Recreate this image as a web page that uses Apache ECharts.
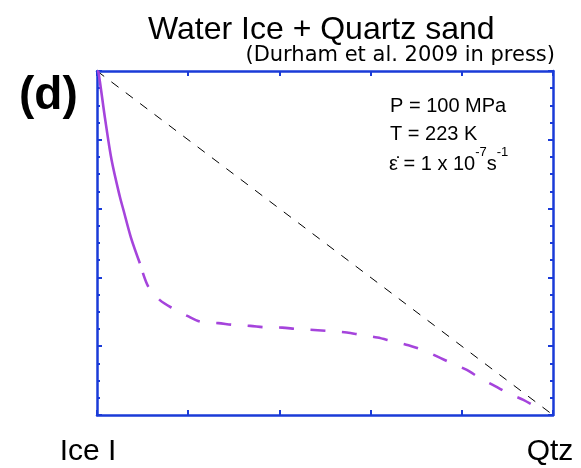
<!DOCTYPE html>
<html>
<head>
<meta charset="utf-8">
<script src="https://cdn.jsdelivr.net/npm/echarts@6.0.0/dist/echarts.min.js"></script>
<style>
  html, body { margin: 0; padding: 0; background: #ffffff; }
  #chart { width: 581px; height: 468px; }
</style>
</head>
<body>
<div id="chart"></div>
<script>
// fraction of quartz (0 = Ice I, 1 = Qtz) and normalised strength
const mixX = [0, 0.003, 0.0175, 0.032, 0.05, 0.058, 0.0746, 0.094,
  0.1125, 0.138, 0.166, 0.198, 0.227, 0.266, 0.299, 0.336, 0.368, 0.406,
  0.438, 0.476, 0.509, 0.548, 0.578, 0.615, 0.646, 0.683, 0.714, 0.748,
  0.778, 0.811, 0.84, 0.873, 0.902, 0.935, 0.968];
const mixY = [1, 0.998, 0.863, 0.741, 0.635, 0.596, 0.515, 0.441,
  0.373, 0.334, 0.31, 0.288, 0.271, 0.267, 0.262, 0.259, 0.255, 0.254,
  0.25, 0.247, 0.244, 0.24, 0.233, 0.225, 0.215, 0.203, 0.189, 0.169,
  0.15, 0.131, 0.107, 0.084, 0.063, 0.044, 0.019];
const solidUntil = 0.094; // measured part of the curve, dashed beyond
const lineX = [0, 1];     // simple linear mixing line
const lineY = [1, 0];
const tickVals = [0, 0.2, 0.4, 0.6, 0.8, 1];
const endLabels = ['Ice I', 'Qtz'];
const conditions = ['P = 100 MPa', 'T = 223 K'];

const blue = '#1a3bd8';
const purple = '#a544dc';
const font = 'Liberation Sans, Arial, Helvetica, sans-serif';

const solidPts = [];
const dashPts = [];
mixX.forEach((x, i) => {
  if (x <= solidUntil) solidPts.push([x, mixY[i]]);
  if (x >= solidUntil) dashPts.push([x, mixY[i]]);
});
const diagPts = lineX.map((x, i) => [x, lineY[i]]);

const axisLine = { show: true, onZero: false, lineStyle: { color: blue, width: 2.5 } };
const axisTick = { show: true, inside: true, length: 5, lineStyle: { color: blue, width: 2 } };

function xAx(pos, labels) {
  return {
    type: 'value', position: pos, min: 0, max: 1, interval: 0.2,
    axisLine: axisLine, axisTick: axisTick, splitLine: { show: false },
    axisLabel: labels ? {
      show: true, margin: 22, showMinLabel: true, showMaxLabel: true,
      formatter: v => (v === tickVals[0] ? '{l|' + endLabels[0] + '}' :
        v === tickVals[tickVals.length - 1] ? '{r|' + endLabels[1] + '}' : ''),
      rich: {
        l: { fontSize: 30, fontFamily: font, color: '#000', padding: [0, 18, 0, 0] },
        r: { fontSize: 30, fontFamily: font, color: '#000', padding: [0, 6, 0, 0] }
      }
    } : { show: false }
  };
}
function yAx(pos) {
  return {
    type: 'value', position: pos, min: 0, max: 1, interval: 0.2,
    axisLine: axisLine, axisTick: axisTick,
    minorTick: { show: true, splitNumber: 4, length: 3, lineStyle: { color: blue, width: 2 } },
    axisLabel: { show: false }, splitLine: { show: false }, minorSplitLine: { show: false }
  };
}

const chart = echarts.init(document.getElementById('chart'));
chart.setOption({
  animation: false,
  backgroundColor: '#ffffff',
  grid: { left: 97, right: 28, top: 71, bottom: 53 },
  xAxis: [xAx('bottom', true), xAx('top', false)],
  yAxis: [yAx('left'), yAx('right')],
  graphic: [
    { type: 'text', left: 148, top: 14,
      style: { text: 'Water Ice + Quartz sand', font: '32px ' + font, fill: '#000' } },
    { type: 'text', right: 26, top: 45,
      style: { text: '(Durham et al. 2009 in press)', font: '21px DejaVu Sans, sans-serif', fill: '#000' } },
    { type: 'text', left: 19, top: 73,
      style: { text: '(d)', font: 'bold 46px ' + font, fill: '#000' } },
    { type: 'text', left: 390, top: 96,
      style: { text: conditions[0], font: '20px ' + font, fill: '#000' } },
    { type: 'text', left: 390, top: 124,
      style: { text: conditions[1], font: '20px ' + font, fill: '#000' } },
    { type: 'text', left: 389, top: 146,
      style: {
        text: '{n|ε̇ = 1 x 10}{s|-7}{n|s}{s|-1}',
        rich: {
          n: { fontSize: 20, fontFamily: font, color: '#000', verticalAlign: 'bottom', lineHeight: 28 },
          s: { fontSize: 13, fontFamily: font, color: '#000', verticalAlign: 'top', lineHeight: 28 }
        }
      } }
  ],
  series: [
    { type: 'line', data: diagPts, symbol: 'none', silent: true,
      lineStyle: { color: '#000', width: 1, type: [9, 9] } },
    { type: 'line', data: solidPts, symbol: 'none', smooth: 0.3, silent: true,
      lineStyle: { color: purple, width: 2.6 } },
    { type: 'line', data: dashPts, symbol: 'none', smooth: 0.3, silent: true,
      lineStyle: { color: purple, width: 2.6, type: [15, 16.5], dashOffset: 21.5 } }
  ]
});
</script>
</body>
</html>
